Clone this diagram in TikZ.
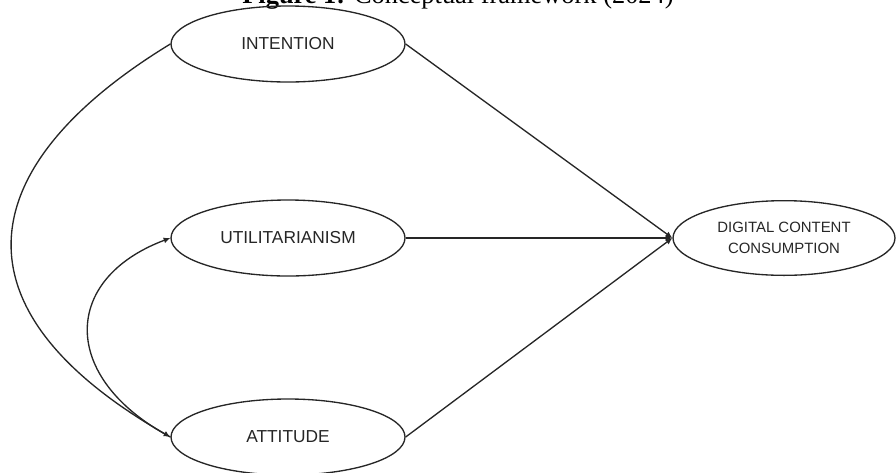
\documentclass[tikz,border=0pt]{standalone}
\usepackage{fontspec}
\setmainfont{Liberation Serif}
\setsansfont{Liberation Sans}
\usetikzlibrary{arrows.meta,shapes.geometric}
\definecolor{ink}{HTML}{262626}
\tikzset{construct/.style={ellipse,draw=ink,line width=1pt,inner sep=0pt,
  minimum width=175.5pt,minimum height=57pt,align=center,
  font=\sffamily\fontsize{13}{15}\selectfont,text=ink},
  link/.style={-{Latex[length=5pt,width=4.5pt]},line width=1pt,draw=ink}}
\begin{document}
\begin{tikzpicture}[x=0.75pt,y=-0.75pt]
\useasboundingbox (0,0) rectangle (896,472);
\node[anchor=base,font=\fontsize{19.8}{22}\selectfont] (title) at (458,3) {\textbf{Figure 1:} Conceptual framework (2024)};
\node[construct] (intent) at (288,44) {INTENTION};
\node[construct] (util) at (288,238) {UTILITARIANISM};
\node[construct] (attit) at (288,437) {ATTITUDE};
\node[construct,minimum width=166.5pt,minimum height=56pt,
  font=\sffamily\fontsize{11.2}{15.75}\selectfont] (dcc) at (784,238) {DIGITAL CONTENT\\CONSUMPTION};
% paths to the outcome
\draw[link] (intent.east)--(dcc.west);
\draw[link] (util.east)--(dcc.west);
\draw[link] (attit.east)--(dcc.west);
% curved links on the left
\draw[link] (intent.west) .. controls (-20,160) and (-61,304) .. (attit.west);
\draw[link] (attit.west) .. controls (60,378) and (61,279) .. (util.west);
\end{tikzpicture}
\end{document}
